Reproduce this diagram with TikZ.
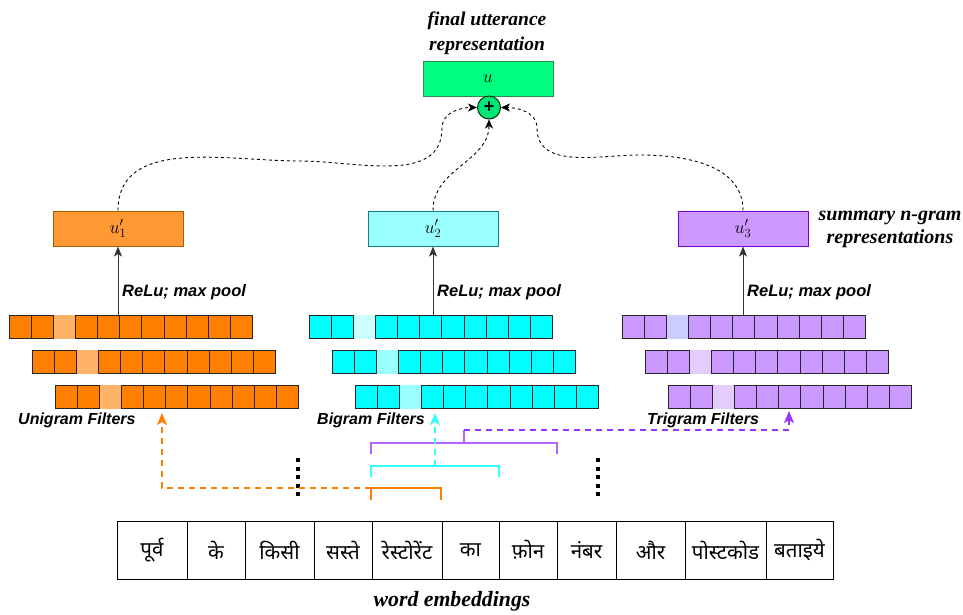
\RequirePackage{fix-cm}
\documentclass[tikz,border=0pt]{standalone}
\usepackage{fontspec}
\setmainfont{Liberation Serif}
\newfontfamily\labelsans{Liberation Sans}
\newfontfamily\deva[Script=Devanagari]{Noto Sans}
\usetikzlibrary{arrows.meta}

% box and cell colours
\definecolor{uGreen}{HTML}{00FF80}
\definecolor{uGreenLine}{HTML}{2D8A50}
\definecolor{plusGreen}{HTML}{00E676}
\definecolor{oneFill}{HTML}{FF9933}
\definecolor{oneLine}{HTML}{A65C00}
\definecolor{twoFill}{HTML}{99FFFF}
\definecolor{twoLine}{HTML}{0E8088}
\definecolor{threeFill}{HTML}{CC99FF}
\definecolor{threeLine}{HTML}{7F00CC}
\definecolor{uniCell}{HTML}{FF8000}
\definecolor{uniHi}{HTML}{FFB366}
\definecolor{biCell}{HTML}{00FFFF}
\definecolor{biHiA}{HTML}{CCFFFF}
\definecolor{biHiB}{HTML}{99FFFF}
\definecolor{triCell}{HTML}{CC99FF}
\definecolor{triHiA}{HTML}{CCCCFF}
\definecolor{triHiB}{HTML}{E5CCFF}
\definecolor{uniPath}{HTML}{FF8000}
\definecolor{biPath}{HTML}{33FFFF}
\definecolor{triPath}{HTML}{9933FF}
\definecolor{triSpan}{HTML}{B266FF}

\tikzset{
  repbox/.style={draw, line width=1pt, minimum width=130pt, minimum height=35pt,
    inner sep=0pt, font=\fontsize{18}{20}\selectfont},
  sumlink/.style={draw=black, line width=0.9pt, dash pattern=on 3pt off 3pt,
    -{Stealth[length=9pt,width=8pt,inset=2.5pt]}},
  poolarrow/.style={draw=black!80, line width=1pt,
    -{Stealth[length=10pt,width=8pt,inset=2.5pt]}},
  caption/.style={font=\fontsize{19.5}{24.5}\selectfont\bfseries\itshape, align=center, inner sep=0pt},
  poolname/.style={font=\labelsans\fontsize{16.5}{19}\selectfont\bfseries\itshape,
    anchor=west, inner sep=0pt},
  filtername/.style={font=\labelsans\fontsize{16}{19}\selectfont\bfseries\itshape,
    anchor=west, inner sep=0pt},
  wordcell/.style={draw, line width=1pt, minimum height=58pt, inner sep=0pt,
    font=\deva\fontsize{20.5}{23}\selectfont},
  cellline/.style={draw=black!85, line width=0.9pt},
  span/.style={line width=2pt},
  route/.style={line width=2pt, dash pattern=on 6pt off 5pt,
    -{Stealth[length=12pt,width=10pt,inset=3pt]}},
  dotcol/.style={line width=4pt, dash pattern=on 4pt off 4.6pt},
}

\begin{document}
\begin{tikzpicture}[x=1pt,y=-1pt]
\useasboundingbox (0,0) rectangle (963,614);

% ---------- final representation ----------
\node[caption] (title) at (487,33) {final utterance\\representation};
\node[repbox, fill=uGreen, draw=uGreenLine] (u) at (488,78.5) {$u$};
\node[circle, draw=black!80!green, line width=1pt, fill=plusGreen, minimum size=23pt,
  inner sep=0pt, font=\labelsans\bfseries\fontsize{18}{18}\selectfont] (plus) at (489,107.5) {+};

% ---------- summary n-gram boxes ----------
\node[repbox, fill=oneFill, draw=oneLine] (u1) at (118,228.5) {$u'_1$};
\node[repbox, fill=twoFill, draw=twoLine] (u2) at (433,228.5) {$u'_2$};
\node[repbox, fill=threeFill, draw=threeLine] (u3) at (743,228.5) {$u'_3$};
\node[caption, font=\fontsize{20}{23}\selectfont\bfseries\itshape] (sumlabel) at (890,229.5)
  {summary n-gram\\representations};

% dashed links into the sum
\draw[sumlink] (u1.north) to[out=90,in=180] (300,161) to[out=0,in=-90] (442,128)
  to[out=90,in=180] (plus.west);
\draw[sumlink] (u2.north) to[out=90,in=-90] (plus.south);
\draw[sumlink] (u3.north) to[out=90,in=0] (640,155) to[out=180,in=-90] (537,128)
  to[out=90,in=0] (plus.east);

% ---------- filter banks ----------
\foreach \bx/\cf/\ha/\hb in {9/uniCell/uniHi/uniHi, 309/biCell/biHiA/biHiB, 622/triCell/triHiA/triHiB} {
  \foreach \rw in {0,1,2} {
    \pgfmathsetmacro\rx{\bx+23*\rw}
    \pgfmathsetmacro\ry{315+35*\rw}
    \foreach \c in {0,...,10} {
      \draw[cellline, fill=\cf] ({\rx+22.15*\c},\ry) rectangle ++(22.15,23.5);
    }
    \ifnum\rw=0 \def\hc{\ha}\else\def\hc{\hb}\fi
    \fill[\hc] ({\rx+22.15*2+0.45},{\ry-0.5}) rectangle ++(21.25,24.5);
  }
}

\coordinate (uniTop) at (118,315);
\coordinate (biTop) at (433,315);
\coordinate (triTop) at (743,315);
\draw[poolarrow] (uniTop) -- (u1.south);
\draw[poolarrow] (biTop) -- (u2.south);
\draw[poolarrow] (triTop) -- (u3.south);
\node[poolname] (pool1) at (122,292.5) {ReLu; max pool};
\node[poolname] (pool2) at (437,292.5) {ReLu; max pool};
\node[poolname] (pool3) at (747,292.5) {ReLu; max pool};

\node[filtername] (uniname) at (18,420) {Unigram Filters};
\node[filtername] (biname) at (317,420) {Bigram Filters};
\node[filtername] (triname) at (647,420) {Trigram Filters};

% ---------- word embeddings ----------
\foreach \xa/\xb/\w [count=\k] in {117/187/पूर्व, 187/245/के, 245/314/किसी, 314/372/सस्ते,
    372/442/रेस्टोरेंट, 442/499/का, 499/557/फ़ोन, 557/616/नंबर, 616/685/और,
    685/766/पोस्टकोड, 766/833/बताइये} {
  \node[wordcell, minimum width={\xb-\xa}] (w\k) at ({(\xa+\xb)/2},550) {\w};
}
\node[caption, font=\fontsize{21.8}{24}\selectfont\bfseries\itshape] (embname) at (452,601)
  {word embeddings};

% ---------- n-gram spans over the words ----------
\coordinate (oL) at (371,500);  \coordinate (oLt) at (371,488);
\coordinate (oRt) at (441,488); \coordinate (oR) at (441,500);
\coordinate (cL) at (371,477);  \coordinate (cLt) at (371,466);
\coordinate (cRt) at (499,466); \coordinate (cR) at (499,477);
\coordinate (cMid) at (435,466);
\coordinate (pL) at (371,454);  \coordinate (pLt) at (371,443);
\coordinate (pRt) at (557,443); \coordinate (pR) at (557,454);
\coordinate (pBase) at (464,443); \coordinate (pTick) at (464,430);
\coordinate (uniTip) at (162,413);
\coordinate (biTip) at (435,413);
\coordinate (triTip) at (789,411);

\draw[span, uniPath] (oL) -- (oLt) -- (oRt) -- (oR);
\draw[span, biPath] (cL) -- (cLt) -- (cRt) -- (cR);
\draw[span, triSpan] (pL) -- (pLt) -- (pRt) -- (pR);
\draw[span, triSpan] (pBase) -- (pTick);

% ellipsis columns
\coordinate (dotA) at (298,458); \coordinate (dotAe) at (298,497);
\coordinate (dotB) at (598,458); \coordinate (dotBe) at (598,497);
\draw[dotcol] (dotA) -- (dotAe);
\draw[dotcol] (dotB) -- (dotBe);

% routes up to the filter banks
\draw[route, uniPath] (oLt) -| (uniTip);
\draw[route, biPath] (cMid) -- (biTip);
\draw[route, triPath] (pTick) -| (triTip);
\end{tikzpicture}
\end{document}
